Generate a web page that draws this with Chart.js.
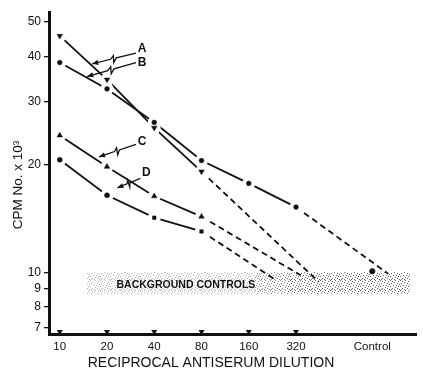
<!DOCTYPE html>
<html><head><meta charset="utf-8">
<script src="https://cdn.jsdelivr.net/npm/chart.js@4/dist/chart.umd.min.js"></script>
<style>html,body{margin:0;padding:0;background:#fff}#wrap{width:423px;height:372px;position:relative}</style>
</head><body><div id="wrap"><canvas id="c"></canvas></div>
<script>
// ---- data ----
const dilutions = [10, 20, 40, 80, 160, 320];
const xTickValues = [10, 20, 40, 80, 160, 320, 980];
const xTickLabels = ['10', '20', '40', '80', '160', '320', 'Control'];
const yTickValues = [7, 8, 9, 10, 20, 30, 40, 50];
const yTickLabels = ['7', '8', '9', '10', '20', '30', '40', '50'];

const seriesA = [45.7, 34.5, 25.3, 19.1];
const seriesB = [38.5, 32.5, 26.2, 20.5, 17.7, 15.2];
const seriesC = [24.1, 19.7, 16.3, 14.3];
const seriesD = [20.6, 16.4, 14.2, 13.0];
// dashed extrapolation end points [dilution, cpm]
const endA = [446, 9.4];
const endB = [1237, 9.9];
const endC = [343, 9.8];
const endD = [239, 9.5];
const controlX = [980];
const controlY = [10.06];
// background controls band
const bandX = [14.9, 1700];
const bandY = [8.7, 10.0];

const seriesNames = ['A', 'B', 'C', 'D'];
const FONT = "'Liberation Sans', Arial, Helvetica, sans-serif";
const INK = '#111';

function pts(vals) { return vals.map((v, i) => ({ x: dilutions[i], y: v })); }
function lineDs(vals, end, dashFrom) {
  return {
    data: pts(vals).concat([{ x: end[0], y: end[1] }]),
    borderColor: INK, borderWidth: 1.8, pointRadius: 0, fill: false, tension: 0,
    order: 3, clip: false,
    segment: { borderDash: ctx => ctx.p0DataIndex >= dashFrom ? [6, 4] : undefined }
  };
}
function haloDs(vals) {
  return { data: pts(vals), showLine: false, pointRadius: 6.5, pointBackgroundColor: '#fff',
    pointBorderWidth: 0, pointBorderColor: '#fff', order: 2 };
}
function markDs(vals, style, radius, rot) {
  return { data: pts(vals), showLine: false, pointStyle: style, pointRadius: radius,
    pointRotation: rot || 0, pointBackgroundColor: INK, pointBorderColor: INK,
    pointBorderWidth: 0.5, order: 1 };
}

const datasets = [
  lineDs(seriesA, endA, 3), lineDs(seriesB, endB, 5), lineDs(seriesC, endC, 3), lineDs(seriesD, endD, 3),
  haloDs(seriesA), haloDs(seriesB), haloDs(seriesC), haloDs(seriesD),
  markDs(seriesA, 'triangle', 3.2, 180),
  markDs(seriesB, 'circle', 2.4),
  markDs(seriesC, 'triangle', 3.2, 0),
  markDs(seriesD, ['circle', 'circle', 'rect', 'rect'], 2.5),
  { data: controlX.map((x, i) => ({ x: x, y: controlY[i] })), showLine: false, pointStyle: 'circle',
    pointRadius: 2.6, pointBackgroundColor: INK, pointBorderColor: INK, order: 0 }
];

// annotation placement (data coordinates) for the letter labels and arrow tips
const annText = [[33.4, 42.0], [33.4, 38.5], [33.4, 23.2], [35.6, 19.0]];
const annTip = [[16.1, 38.2], [14.95, 35.2], [17.8, 21.0], [23.3, 17.2]];
const annStartOff = [[-6, 4], [-6, 0], [-6, 3], [-6, 6]];

const stippleDots = [[0,0],[5,0],[2,1],[8,1],[4,2],[7,3],[1,3],[9,4],[3,5],[6,5],[0,6],[8,6],[5,7],[2,8],[7,8],[4,9],[9,9],[1,9]];
function dotPattern(ctx) {
  const c = document.createElement('canvas'); c.width = 10; c.height = 10;
  const g = c.getContext('2d');
  g.fillStyle = '#555';
  stippleDots.forEach(([a, b]) => g.fillRect(a, b, 1, 1));
  return ctx.createPattern(c, 'repeat');
}

const bandPlugin = {
  id: 'band',
  beforeDatasetsDraw(chart) {
    const { ctx, scales: { x, y } } = chart;
    const x0 = x.getPixelForValue(bandX[0]), x1 = x.getPixelForValue(bandX[1]);
    const y0 = y.getPixelForValue(bandY[1]), y1 = y.getPixelForValue(bandY[0]);
    ctx.save();
    ctx.fillStyle = dotPattern(ctx);
    const zones = [[0, 0.52, 0.45], [0.52, 0.62, 0.7], [0.62, 1, 0.9]];
    zones.forEach(([a, b, al]) => {
      ctx.globalAlpha = al;
      ctx.fillRect(x0 + (x1 - x0) * a, y0, (x1 - x0) * (b - a), y1 - y0);
    });
    ctx.globalAlpha = 1;
    ctx.fillStyle = INK;
    ctx.font = 'bold 10.5px ' + FONT;
    ctx.textAlign = 'left'; ctx.textBaseline = 'middle';
    ctx.fillText('BACKGROUND CONTROLS', x.getPixelForValue(23), y.getPixelForValue(9.2));
    ctx.restore();
  }
};

const decoPlugin = {
  id: 'deco',
  afterDraw(chart) {
    const { ctx, scales: { x, y }, chartArea: ca } = chart;
    ctx.save();
    ctx.fillStyle = INK; ctx.strokeStyle = INK;
    // tick triangles on x axis
    dilutions.forEach(d => {
      const px = x.getPixelForValue(d);
      ctx.beginPath();
      ctx.moveTo(px - 3, ca.bottom - 4); ctx.lineTo(px + 3, ca.bottom - 4); ctx.lineTo(px, ca.bottom + 1);
      ctx.closePath(); ctx.fill();
    });
    // letter labels with lightning arrows
    ctx.font = 'bold 12px ' + FONT;
    ctx.textAlign = 'center'; ctx.textBaseline = 'middle';
    seriesNames.forEach((n, i) => {
      const tx = x.getPixelForValue(annText[i][0]), ty = y.getPixelForValue(annText[i][1]);
      ctx.fillText(n, tx, ty);
      const sx = tx + annStartOff[i][0], sy = ty + annStartOff[i][1];
      const ex = x.getPixelForValue(annTip[i][0]), ey = y.getPixelForValue(annTip[i][1]);
      const dx = ex - sx, dy = ey - sy, L = Math.hypot(dx, dy);
      const ux = dx / L, uy = dy / L, nx = -uy, ny = ux;
      const path = [[0, 0], [0.45, 0], [0.53, -4], [0.50, 3], [0.58, 0], [1, 0]];
      ctx.lineWidth = 1.3;
      ctx.beginPath();
      path.forEach(([t, o], k) => {
        const px = sx + ux * L * t + nx * o, py = sy + uy * L * t + ny * o;
        if (k === 0) ctx.moveTo(px, py); else ctx.lineTo(px, py);
      });
      ctx.stroke();
      ctx.beginPath();
      ctx.moveTo(ex, ey);
      ctx.lineTo(ex - ux * 6 + nx * 2.6, ey - uy * 6 + ny * 2.6);
      ctx.lineTo(ex - ux * 6 - nx * 2.6, ey - uy * 6 - ny * 2.6);
      ctx.closePath(); ctx.fill();
    });
    // axis titles
    ctx.font = '14px ' + FONT;
    ctx.textAlign = 'center'; ctx.textBaseline = 'middle';
    ctx.fillText('RECIPROCAL ANTISERUM DILUTION', ca.left + 162, ca.bottom + 29);
    ctx.save();
    ctx.translate(ca.left - 31, (ca.top + ca.bottom) / 2 + 12);
    ctx.rotate(-Math.PI / 2);
    ctx.font = '13.5px ' + FONT;
    ctx.fillText('CPM No. x 10³', 0, 0);
    ctx.restore();
    ctx.restore();
  }
};

new Chart(document.getElementById('c'), {
  type: 'line',
  data: { datasets },
  plugins: [bandPlugin, decoPlugin],
  options: {
    responsive: true, maintainAspectRatio: false, animation: false,
    layout: { padding: { top: 12, right: 0, left: 0, bottom: 0 } },
    plugins: { legend: { display: false }, tooltip: { enabled: false } },
    scales: {
      x: {
        type: 'logarithmic', min: 8.54, max: 1874,
        border: { display: true, width: 3, color: INK },
        grid: { display: false, drawTicks: false },
        ticks: { autoSkip: false, maxRotation: 0, padding: 6, color: INK,
          font: { family: FONT, size: 11.5 }, callback: (v, i) => xTickLabels[i] },
        afterBuildTicks: s => { s.ticks = xTickValues.map(v => ({ value: v })); },
        afterFit: s => { s.height = 38; }
      },
      y: {
        type: 'logarithmic', min: 6.72, max: 53.3,
        border: { display: true, width: 3, color: INK },
        grid: { display: true, drawOnChartArea: false, drawTicks: true, tickLength: 5, color: INK, lineWidth: 1.3 },
        ticks: { autoSkip: false, padding: 3, color: INK,
          font: { family: FONT, size: 12 }, callback: (v, i) => yTickLabels[i] },
        afterBuildTicks: s => { s.ticks = yTickValues.map(v => ({ value: v })); },
        afterFit: s => { s.width = 49; }
      }
    }
  }
});
</script></body></html>
